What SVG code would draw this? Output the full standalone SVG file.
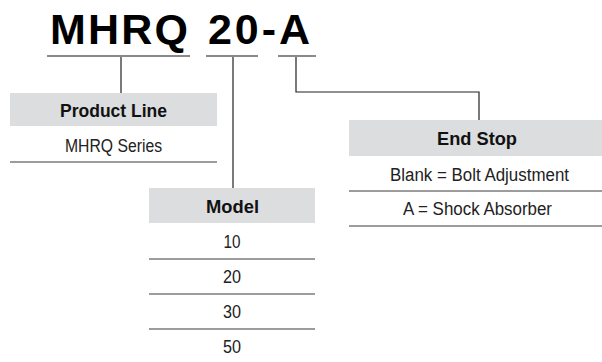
<svg xmlns="http://www.w3.org/2000/svg" width="602" height="362" viewBox="0 0 602 362">
<style>
.title{font-family:"Liberation Sans",Arial,sans-serif;font-weight:bold;font-size:43px;fill:#000}
.hd{font-family:"Liberation Sans Narrow","Liberation Sans",Arial,sans-serif;font-weight:bold;font-size:18px;fill:#111;text-anchor:middle}
.tx{font-family:"Liberation Sans Narrow","Liberation Sans",Arial,sans-serif;font-size:18px;fill:#222;text-anchor:middle}
.hdbg{fill:#dcdddf}
.sep{stroke:#9c9c9c;stroke-width:2;fill:none}
.ul{stroke:#8a8a8a;stroke-width:2;fill:none}
.con{stroke:#222;stroke-width:1.2;fill:none}
</style>
<rect width="602" height="362" fill="#fff"/>
<g id="title">
<text class="title" x="50" y="44" textLength="138" lengthAdjust="spacing">MHRQ</text>
<text class="title" x="208" y="44" textLength="102" lengthAdjust="spacing">20-A</text>
<line class="ul" x1="47" y1="56" x2="190" y2="56"/>
<line class="ul" x1="206" y1="56" x2="258" y2="56"/>
<line class="ul" x1="278" y1="56" x2="316" y2="56"/>
</g>
<g id="connectors">
<polyline class="con" points="121,57 121,93"/>
<polyline class="con" points="233,57 233,188"/>
<polyline class="con" points="296,57 296,92 479,92 479,120"/>
</g>
<g id="product-line">
<rect class="hdbg" x="10" y="93" width="207" height="33"/>
<text class="hd" x="113.5" y="117" textLength="107" lengthAdjust="spacingAndGlyphs">Product Line</text>
<text class="tx" x="113.5" y="152" textLength="97" lengthAdjust="spacingAndGlyphs">MHRQ Series</text>
<line class="sep" x1="10" y1="162" x2="217" y2="162"/>
</g>
<g id="model">
<rect class="hdbg" x="149" y="188" width="166" height="35"/>
<text class="hd" x="232.5" y="213" textLength="53" lengthAdjust="spacingAndGlyphs">Model</text>
<text class="tx" x="232" y="248" textLength="17" lengthAdjust="spacingAndGlyphs">10</text>
<line class="sep" x1="149" y1="259" x2="315" y2="259"/>
<text class="tx" x="232" y="283" textLength="18" lengthAdjust="spacingAndGlyphs">20</text>
<line class="sep" x1="149" y1="294" x2="315" y2="294"/>
<text class="tx" x="232" y="318" textLength="18" lengthAdjust="spacingAndGlyphs">30</text>
<line class="sep" x1="149" y1="329" x2="315" y2="329"/>
<text class="tx" x="232" y="353" textLength="18" lengthAdjust="spacingAndGlyphs">50</text>
</g>
<g id="end-stop">
<rect class="hdbg" x="349" y="120" width="253" height="36"/>
<text class="hd" x="477" y="145" textLength="80" lengthAdjust="spacingAndGlyphs">End Stop</text>
<text class="tx" x="479.5" y="181" textLength="179" lengthAdjust="spacingAndGlyphs">Blank = Bolt Adjustment</text>
<line class="sep" x1="349" y1="191" x2="602" y2="191"/>
<text class="tx" x="477.5" y="215" textLength="149" lengthAdjust="spacingAndGlyphs">A = Shock Absorber</text>
<line class="sep" x1="349" y1="226" x2="602" y2="226"/>
</g>
</svg>
